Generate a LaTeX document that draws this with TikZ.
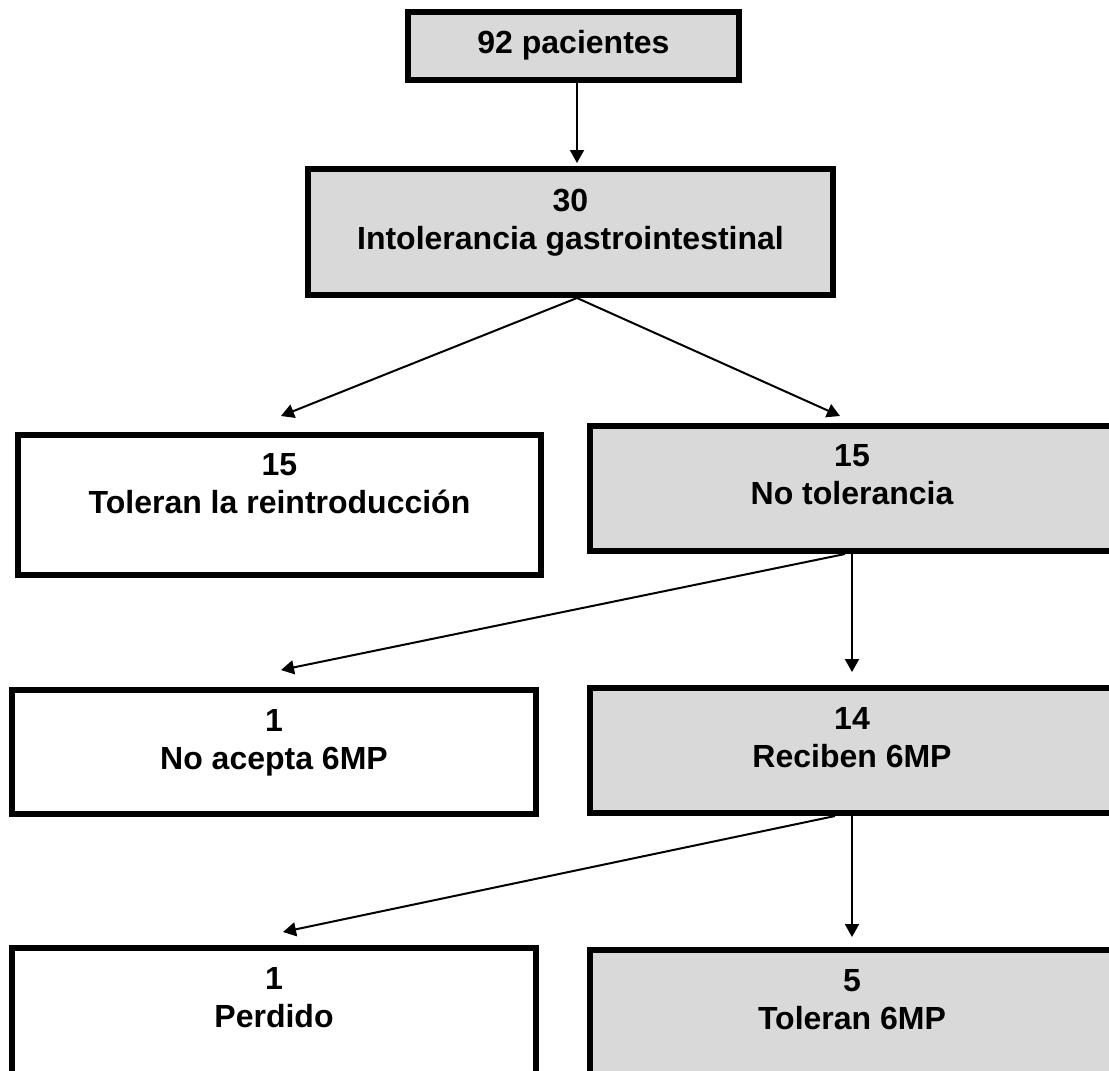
\documentclass[tikz,border=0pt]{standalone}
\usepackage{fontspec}
\setmainfont{Liberation Sans}
\usetikzlibrary{arrows.meta,positioning,calc}
\definecolor{gris}{RGB}{217,217,217}

\begin{document}
\begin{tikzpicture}[x=0.5pt,y=-0.5pt,>={Triangle[length=6.5pt,width=7pt]},
   font=\fontsize{16}{19}\selectfont\bfseries,
   caja/.style={rectangle,draw,line width=3pt,inner sep=0pt},
   cajag/.style={caja,fill=gris},
   txt/.style={align=center,inner sep=0pt},
   fl/.style={->,line width=1pt}]
  \useasboundingbox (0,0) rectangle (1109,1071);
  \clip (0,0) rectangle (1109,1071);
  \node[cajag,minimum width=165.5pt,minimum height=34pt] (b92) at (573.5,46) {};
  \node[cajag,minimum width=262.5pt,minimum height=63pt] (bint) at (570.5,232) {};
  \node[caja,minimum width=261.5pt,minimum height=70pt] (btol) at (279.5,505) {};
  \node[cajag,minimum width=262pt,minimum height=62.5pt] (bno) at (852,488.5) {};
  \node[caja,minimum width=262pt,minimum height=62pt] (bacep) at (274,752) {};
  \node[cajag,minimum width=262pt,minimum height=62.5pt] (brec) at (852,750.5) {};
  \node[caja,minimum width=262pt,minimum height=64.5pt] (bper) at (274,1012.5) {};
  \node[cajag,minimum width=262pt,minimum height=63.5pt] (btol6) at (852,1013.5) {};
  \node[txt,below=10.5pt of b92.north] (t92) {92 pacientes};
  \node[txt,below=11.5pt of bint.north] (tint) {30\\Intolerancia gastrointestinal};
  \node[txt,below=10.5pt of btol.north] (ttol) {15\\Toleran la reintroducción};
  \node[txt,below=10.5pt of bno.north] (tno) {15\\No tolerancia};
  \node[txt,below=11pt of bacep.north] (tacep) {1\\No acepta 6MP};
  \node[txt,below=11pt of brec.north] (trec) {14\\Reciben 6MP};
  \node[txt,below=11pt of bper.north] (tper) {1\\Perdido};
  \node[txt,below=11pt of btol6.north] (ttol6) {5\\Toleran 6MP};
  \draw[fl,shorten >=1.5pt] ([xshift=1.75pt]b92.south) -- ([xshift=3.25pt]bint.north);
  \draw[fl] ([xshift=3.25pt]bint.south) -- ([xshift=0.75pt,yshift=8pt]btol.north);
  \draw[fl] ([xshift=3.25pt]bint.south) -- ([xshift=-6pt,yshift=3.5pt]bno.north);
  \draw[fl] ([xshift=-3.5pt]bno.south) -- ([xshift=3.5pt,yshift=8.5pt]bacep.north);
  \draw[fl] (bno.south) -- ([yshift=6.5pt]brec.north);
  \draw[fl] ([xshift=-8.5pt]brec.south) -- ([xshift=4.5pt,yshift=6.5pt]bper.north);
  \draw[fl] (brec.south) -- ([yshift=5pt]btol6.north);
\end{tikzpicture}
\end{document}
